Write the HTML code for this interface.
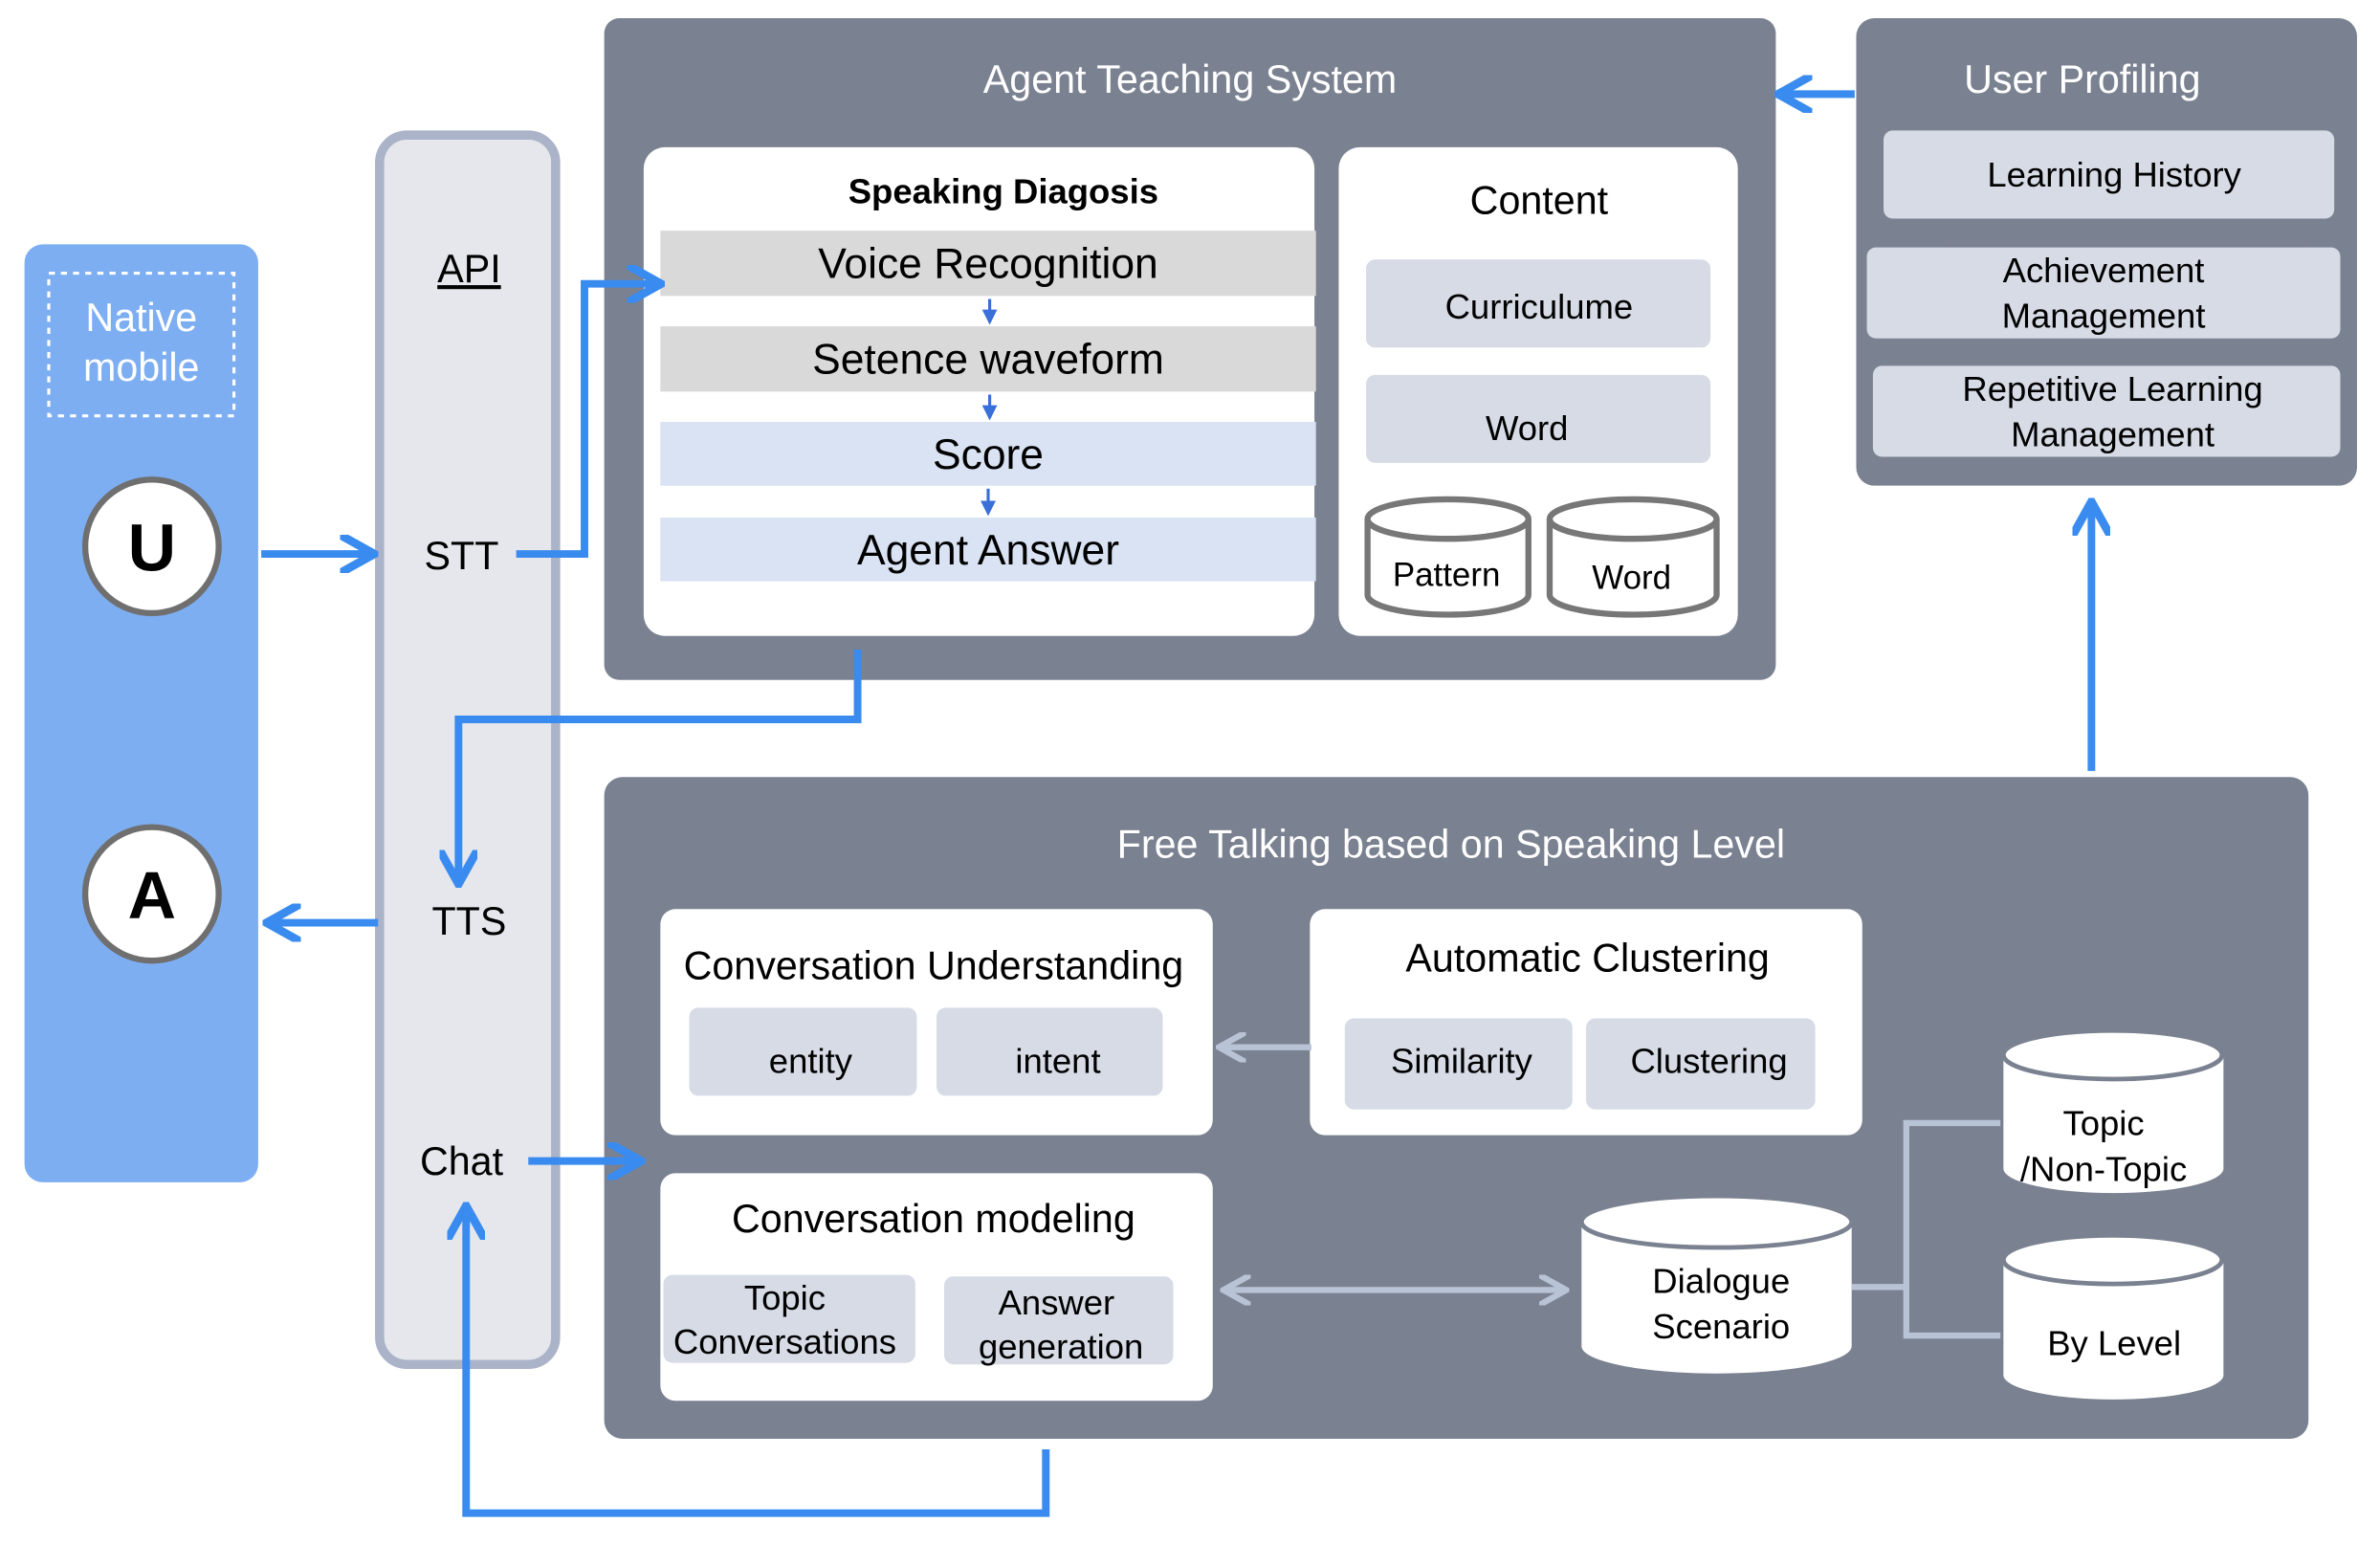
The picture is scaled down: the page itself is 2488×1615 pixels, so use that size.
<!DOCTYPE html>
<html><head><meta charset="utf-8"><style>html,body{margin:0;padding:0;background:#fff}svg{display:block}text{font-family:"Liberation Sans","DejaVu Sans",sans-serif}</style></head><body>
<svg width="2488" height="1615" viewBox="0 0 1568 1018" xmlns="http://www.w3.org/2000/svg">
<defs>
<marker id="ab" viewBox="0 0 10 10" refX="8" refY="5" markerWidth="5" markerHeight="5" orient="auto-start-reverse"><path d="M0,0 L9,5 L0,10" fill="none" stroke="#3a8bef" stroke-width="2.2"/></marker>
<marker id="ag" viewBox="0 0 10 10" refX="8" refY="5" markerWidth="5" markerHeight="5" orient="auto-start-reverse"><path d="M0,0 L9,5 L0,10" fill="none" stroke="#b9c3d6" stroke-width="2"/></marker>
<marker id="as" viewBox="0 0 10 10" refX="8" refY="5" markerWidth="5" markerHeight="5" orient="auto"><path d="M0,0 L10,5 L0,10z" fill="#3a6fd8"/></marker>
</defs>
<g font-size="26">
<rect x="16" y="161" width="154" height="618" rx="12" fill="#7eaef2"/>
<rect x="32" y="180" width="122" height="94" fill="none" stroke="#fff" stroke-width="2" stroke-dasharray="4,4"/>
<text x="93" y="218" fill="#fff" text-anchor="middle">Native</text>
<text x="93" y="251" fill="#fff" text-anchor="middle">mobile</text>
<circle cx="100" cy="360" r="44" fill="#fff" stroke="#6f6f6f" stroke-width="4"/>
<text x="100" y="376" font-size="44" font-weight="bold" text-anchor="middle">U</text>
<circle cx="100" cy="589" r="44" fill="#fff" stroke="#6f6f6f" stroke-width="4"/>
<text x="100" y="605" font-size="44" font-weight="bold" text-anchor="middle">A</text>
<rect x="250" y="89" width="116" height="810" rx="18" fill="#e6e7ec" stroke="#aab3c8" stroke-width="6"/>
<text x="309" y="186" text-anchor="middle" text-decoration="underline">API</text>
<text x="304" y="375" text-anchor="middle">STT</text>
<text x="309" y="616" text-anchor="middle">TTS</text>
<text x="304" y="774" text-anchor="middle">Chat</text>
<rect x="398" y="12" width="772" height="436" rx="10" fill="#7a8190"/>
<text x="784" y="61" fill="#fff" text-anchor="middle">Agent Teaching System</text>
<rect x="424" y="97" width="442" height="322" rx="14" fill="#fff"/>
<text x="661" y="134" font-size="23" font-weight="bold" text-anchor="middle">Speaking Diagosis</text>
<rect x="435" y="152" width="432" height="43" fill="#d9d9d9"/>
<rect x="435" y="215" width="432" height="43" fill="#d9d9d9"/>
<rect x="435" y="278" width="432" height="42" fill="#dae3f3"/>
<rect x="435" y="341" width="432" height="42" fill="#dae3f3"/>
<g font-size="28" text-anchor="middle">
<text x="651" y="183">Voice Recognition</text>
<text x="651" y="246">Setence waveform</text>
<text x="651" y="309">Score</text>
<text x="651" y="372">Agent Answer</text>
</g>
<g stroke="#3a6fd8" stroke-width="2" marker-end="url(#as)">
<line x1="652" y1="197" x2="652" y2="212"/><line x1="652" y1="260" x2="652" y2="275"/><line x1="651" y1="322" x2="651" y2="338"/>
</g>
<rect x="882" y="97" width="263" height="322" rx="14" fill="#fff"/>
<text x="1014" y="141" text-anchor="middle">Content</text>
<rect x="900" y="171" width="227" height="58" rx="6" fill="#d6dbe5"/>
<rect x="900" y="247" width="227" height="58" rx="6" fill="#d6dbe5"/>
<text x="1014" y="210" font-size="23" text-anchor="middle">Curriculume</text>
<text x="1006" y="290" font-size="23" text-anchor="middle">Word</text>
<g fill="#fff" stroke="#777" stroke-width="4">
<path d="M901,342 v50 a53,13 0 0 0 106,0 v-50"/><ellipse cx="954" cy="342" rx="53" ry="13"/>
<path d="M1021,342 v50 a55,13 0 0 0 110,0 v-50"/><ellipse cx="1076" cy="342" rx="55" ry="13"/>
</g>
<text x="953" y="386" font-size="22" text-anchor="middle">Pattern</text>
<text x="1075" y="388" font-size="22" text-anchor="middle">Word</text>
<rect x="1223" y="12" width="330" height="308" rx="12" fill="#7a8190"/>
<text x="1372" y="61" fill="#fff" text-anchor="middle">User Profiling</text>
<rect x="1241" y="86" width="297" height="58" rx="6" fill="#d6dbe5"/>
<rect x="1230" y="163" width="312" height="60" rx="6" fill="#d6dbe5"/>
<rect x="1234" y="241" width="308" height="60" rx="6" fill="#d6dbe5"/>
<g font-size="23" text-anchor="middle">
<text x="1393" y="123">Learning History</text>
<text x="1386" y="186">Achievement</text><text x="1386" y="216">Management</text>
<text x="1392" y="264">Repetitive Learning</text><text x="1392" y="294">Management</text>
</g>
<rect x="398" y="512" width="1123" height="436" rx="12" fill="#7a8190"/>
<text x="956" y="565" fill="#fff" text-anchor="middle">Free Talking based on Speaking Level</text>
<rect x="435" y="599" width="364" height="149" rx="10" fill="#fff"/>
<text x="615" y="645" text-anchor="middle">Conversation Understanding</text>
<rect x="454" y="664" width="150" height="58" rx="6" fill="#d6dbe5"/>
<rect x="617" y="664" width="149" height="58" rx="6" fill="#d6dbe5"/>
<text x="534" y="707" font-size="23" text-anchor="middle">entity</text>
<text x="697" y="707" font-size="23" text-anchor="middle">intent</text>
<rect x="863" y="599" width="364" height="149" rx="10" fill="#fff"/>
<text x="1046" y="640" text-anchor="middle">Automatic Clustering</text>
<rect x="886" y="671" width="150" height="60" rx="6" fill="#d6dbe5"/>
<rect x="1045" y="671" width="151" height="60" rx="6" fill="#d6dbe5"/>
<text x="963" y="707" font-size="23" text-anchor="middle">Similarity</text>
<text x="1126" y="707" font-size="23" text-anchor="middle">Clustering</text>
<rect x="435" y="773" width="364" height="150" rx="10" fill="#fff"/>
<text x="615" y="812" text-anchor="middle">Conversation modeling</text>
<rect x="437" y="840" width="166" height="58" rx="6" fill="#d6dbe5"/>
<rect x="622" y="841" width="151" height="58" rx="6" fill="#d6dbe5"/>
<g font-size="23" text-anchor="middle">
<text x="517" y="863">Topic</text><text x="517" y="892">Conversations</text>
<text x="696" y="866">Answer</text><text x="699" y="895">generation</text>
</g>
<g fill="#fff">
<path d="M1042,805 v82 a89,18 0 0 0 178,0 v-82z"/><ellipse cx="1131" cy="805" rx="89" ry="17" stroke="#7a8190" stroke-width="3"/>
<path d="M1320,695 v75 a72,16 0 0 0 145,0 v-75z"/><ellipse cx="1392" cy="695" rx="72" ry="16" stroke="#7a8190" stroke-width="3"/>
<path d="M1320,830 v76 a72,16 0 0 0 145,0 v-76z"/><ellipse cx="1392" cy="830" rx="72" ry="16" stroke="#7a8190" stroke-width="3"/>
</g>
<g font-size="23" text-anchor="middle">
<text x="1134" y="852">Dialogue</text><text x="1134" y="882">Scenario</text>
<text x="1386" y="748">Topic</text><text x="1386" y="778">/Non-Topic</text>
<text x="1393" y="893">By Level</text>
</g>
<g fill="none" stroke="#b9c3d6" stroke-width="4">
<path d="M1220,848 H1256 M1318,740 H1256 V880 H1318"/>
<line x1="864" y1="690" x2="805" y2="690" marker-end="url(#ag)"/>
<line x1="808" y1="850" x2="1030" y2="850" marker-end="url(#ag)" marker-start="url(#ag)"/>
</g>
<g fill="none" stroke="#3a8bef" stroke-width="5" marker-end="url(#ab)">
<path d="M172,365 H244"/>
<path d="M340,365 H385 V187 H433"/>
<path d="M565,428 V474 H302 V580"/>
<path d="M249,608 H178"/>
<path d="M348,765 H420"/>
<path d="M689,955 V997 H307 V797"/>
<path d="M1222,62 H1174"/>
<path d="M1378,508 V333"/>
</g>
</g>
</svg>
</body></html>
